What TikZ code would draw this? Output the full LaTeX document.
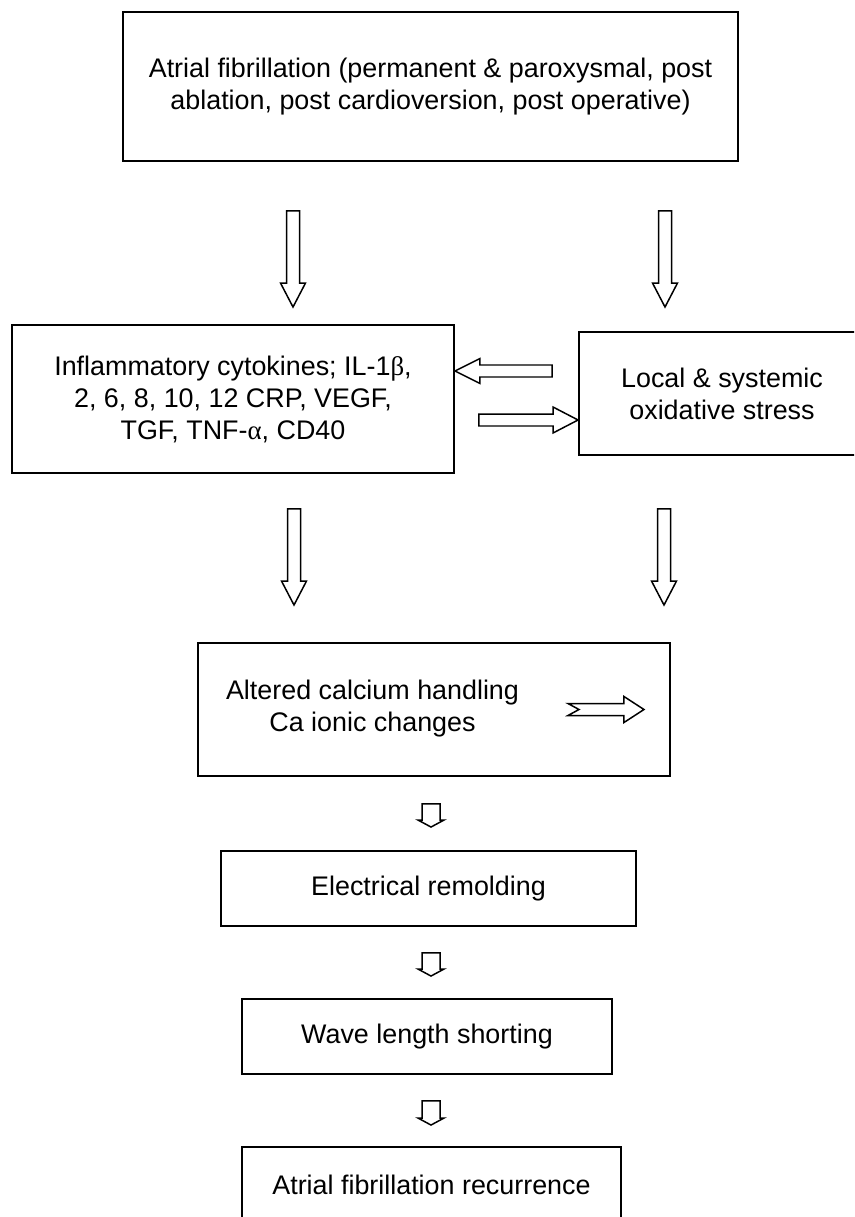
\documentclass[tikz,border=0pt]{standalone}
\usepackage{fontspec}
\setmainfont{Liberation Sans}
\newfontfamily\symfont{Liberation Serif}
\usetikzlibrary{calc}

\begin{document}
\begin{tikzpicture}[
    box/.style={rectangle, draw, line width=1.1pt, align=center},
    fatdown/.style={draw, line width=0.85pt, to path={let \p1=(\tikztostart), \p2=(\tikztotarget) in
        (\x1-0.13cm,\y1) -- (\x1-0.13cm,\y2+0.48cm) -- (\x1-0.25cm,\y2+0.48cm) -- (\x1,\y2)
        -- (\x1+0.25cm,\y2+0.48cm) -- (\x1+0.13cm,\y2+0.48cm) -- (\x1+0.13cm,\y1) -- cycle}},
    smalldown/.style={draw, line width=0.85pt, to path={let \p1=(\tikztostart), \p2=(\tikztotarget) in
        (\x1-0.18cm,\y1) -- (\x1-0.18cm,\y2+0.14cm) -- (\x1-0.26cm,\y2+0.14cm) -- (\x1,\y2)
        -- (\x1+0.26cm,\y2+0.14cm) -- (\x1+0.18cm,\y2+0.14cm) -- (\x1+0.18cm,\y1) -- cycle}},
    fatleft/.style={draw, line width=0.85pt, to path={let \p1=(\tikztostart), \p2=(\tikztotarget) in
        (\x1,\y1+0.12cm) -- (\x2+0.5cm,\y1+0.12cm) -- (\x2+0.5cm,\y1+0.25cm) -- (\x2,\y1)
        -- (\x2+0.5cm,\y1-0.25cm) -- (\x2+0.5cm,\y1-0.12cm) -- (\x1,\y1-0.12cm) -- cycle}},
    fatright/.style={draw, line width=0.85pt, to path={let \p1=(\tikztostart), \p2=(\tikztotarget) in
        (\x1,\y1+0.12cm) -- (\x2-0.5cm,\y1+0.12cm) -- (\x2-0.5cm,\y1+0.26cm) -- (\x2,\y1)
        -- (\x2-0.5cm,\y1-0.26cm) -- (\x2-0.5cm,\y1-0.12cm) -- (\x1,\y1-0.12cm) -- cycle}},
    notched/.style={draw, line width=0.85pt, to path={let \p1=(\tikztostart), \p2=(\tikztotarget) in
        (\x1,\y1+0.12cm) -- (\x2-0.4cm,\y1+0.12cm) -- (\x2-0.4cm,\y1+0.26cm) -- (\x2,\y1)
        -- (\x2-0.4cm,\y1-0.26cm) -- (\x2-0.4cm,\y1-0.12cm) -- (\x1,\y1-0.12cm) -- (\x1+0.22cm,\y1) -- cycle}},
    font=\fontsize{15.3}{18.2}\selectfont
]
    \useasboundingbox (0,0) rectangle (17.08,-24.34);
    \clip (0,0) rectangle (17.08,-24.34);

    % Top
    \node[box, minimum width=12.3cm, minimum height=2.98cm] (af) at (8.61,-1.73)
        {Atrial fibrillation (permanent \& paroxysmal, post\\ablation, post cardioversion, post operative)};

    % Middle row
    \node[box, minimum width=8.84cm, minimum height=2.96cm] (infl) at (4.66,-7.98)
        {Inflammatory cytokines; IL-1{\symfont β},\\2, 6, 8, 10, 12 CRP, VEGF,\\TGF, TNF-{\symfont α}, CD40};
    \node[box, minimum width=5.72cm, minimum height=2.46cm] (stress) at (14.44,-7.87)
        {Local \& systemic\\oxidative stress};

    % Calcium
    \node[box, minimum width=9.44cm, minimum height=2.66cm] (calc) at (8.68,-14.19) {};
    \node[align=center] (calctxt) at (7.45,-14.18)
        {Altered calcium handling\\Ca ionic changes};

    % Chain
    \node[box, minimum width=8.3cm, minimum height=1.5cm] (elec) at (8.57,-17.77) {Electrical remolding};
    \node[box, minimum width=7.4cm, minimum height=1.5cm] (wave) at (8.54,-20.73) {Wave length shorting};
    \node[box, minimum width=7.58cm, minimum height=1.5cm] (recur) at (8.63,-23.69) {Atrial fibrillation recurrence};

    % Arrows
    \draw[fatdown] ($(af.south)+(-2.75,-0.98)$) to ($(infl.north)+(1.2,0.34)$);
    \draw[fatdown] ($(af.south)+(4.69,-0.98)$) to ($(stress.north)+(-1.14,0.48)$);
    \draw[fatleft] ($(stress.west)+(-0.52,0.45)$) to ([yshift=0.56cm]infl.east);
    \draw[fatright] ($(infl.east)+(0.48,-0.42)$) to ([yshift=-0.53cm]stress.west);
    \draw[fatdown] ($(infl.south)+(1.22,-0.7)$) to ($(calc.north)+(-2.8,0.74)$);
    \draw[fatdown] ($(stress.south)+(-1.16,-1.06)$) to ($(calc.north)+(4.6,0.74)$);
    \draw[notched] ($(calc.east)+(-2.06,0)$) to ($(calc.east)+(-0.54,0)$);
    \draw[smalldown] ($(calc.south)+(-0.06,-0.54)$) to ($(elec.north)+(0.05,0.46)$);
    \draw[smalldown] ($(elec.south)+(0.05,-0.52)$) to ($(wave.north)+(0.08,0.44)$);
    \draw[smalldown] ($(wave.south)+(0.08,-0.52)$) to ($(recur.north)+(0,0.42)$);
\end{tikzpicture}
\end{document}
